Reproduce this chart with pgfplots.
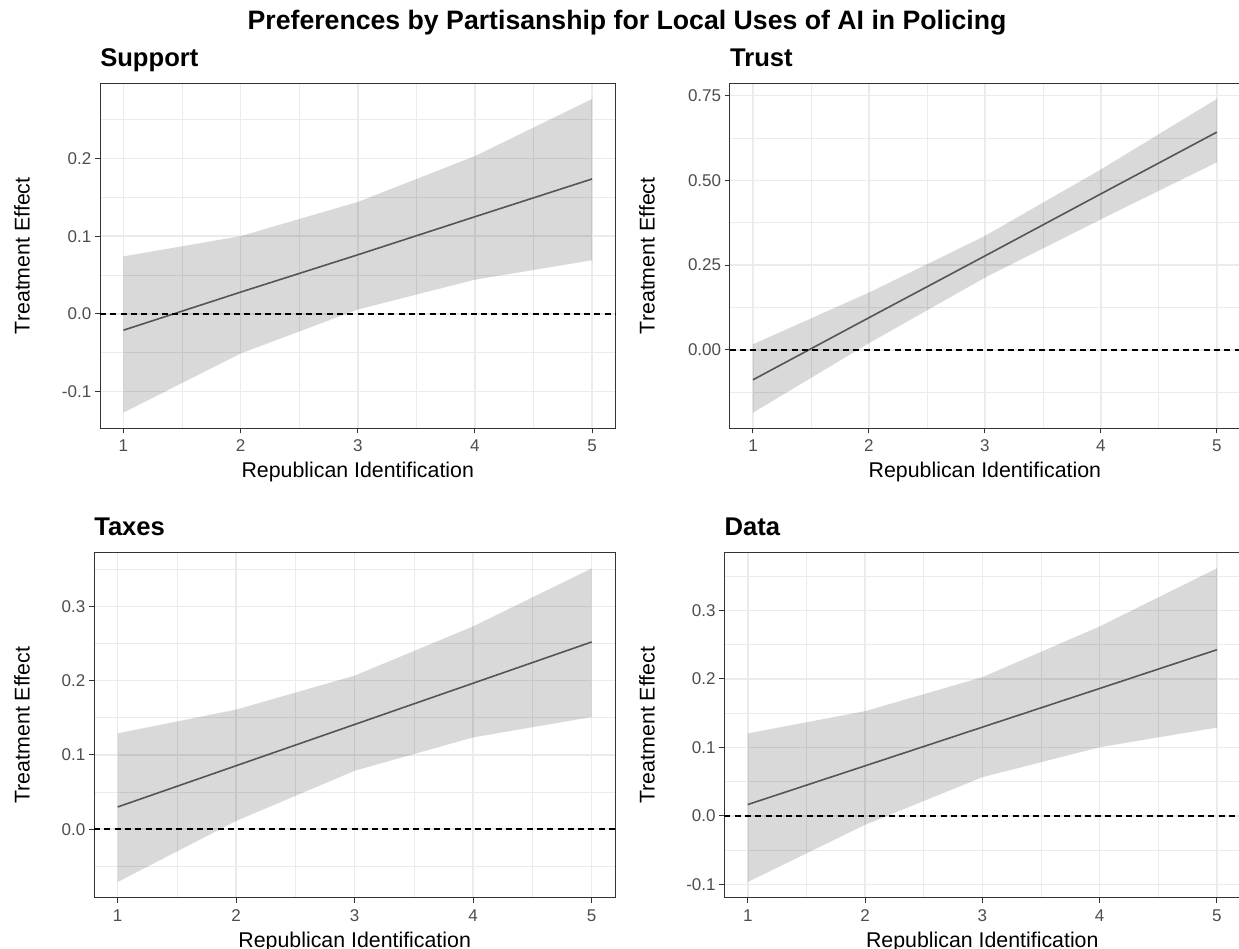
\documentclass[border=0pt]{standalone}
\usepackage{fontspec}
\setmainfont{Liberation Sans}
\usepackage{pgfplots}
\pgfplotsset{compat=1.18}
\usepackage{pgfplotstable}
\usepgfplotslibrary{fillbetween}
\newlength\px \setlength\px{0.75pt}

\definecolor{gridc}{RGB}{235,235,235}
\definecolor{borderc}{RGB}{51,51,51}
\definecolor{tickc}{RGB}{77,77,77}
\definecolor{fitc}{RGB}{85,85,85}

\pgfplotstableread{
x fit lo hi
1 -0.021 -0.127 0.074
2 0.028 -0.051 0.100
3 0.076 0.0056 0.144
4 0.125 0.044 0.203
5 0.1736 0.069 0.2765
}\support
\pgfplotstableread{
x fit lo hi
1 -0.088 -0.185 0.0167
2 0.095 0.020 0.169
3 0.277 0.213 0.336
4 0.460 0.385 0.532
5 0.642 0.553 0.740
}\trust
\pgfplotstableread{
x fit lo hi
1 0.030 -0.071 0.129
2 0.0855 0.0112 0.161
3 0.141 0.0787 0.2067
4 0.1965 0.1236 0.273
5 0.252 0.151 0.351
}\taxes
\pgfplotstableread{
x fit lo hi
1 0.0166 -0.0966 0.1205
2 0.0731 -0.013 0.153
3 0.1296 0.0565 0.2026
4 0.1861 0.1003 0.2767
5 0.2427 0.129 0.3616
}\datatab

\pgfplotsset{
  panel/.style={
    scale only axis, height=345\px,
    xmin=0.8, xmax=5.2,
    xtick={1,2,3,4,5}, minor xtick={1.5,2.5,3.5,4.5},
    grid=both,
    major grid style={gridc, line width=1.5\px},
    minor grid style={gridc, line width=0.75\px},
    axis line style={borderc, line width=1\px},
    tick pos=left,
    tick align=outside, major tick length=5\px, minor tick length=0pt,
    tick style={borderc, line width=1\px},
    every tick label/.append style={font=\fontsize{12.75}{14}\selectfont, text=tickc},
    xticklabel style={yshift=-2\px},
    yticklabel style={xshift=1\px},
    xlabel={Republican Identification},
    ylabel={Treatment Effect},
    label style={font=\fontsize{16}{18}\selectfont},
    xlabel style={at={(axis description cs:0.5,0)}, anchor=center, yshift=-44\px},
    title style={at={(axis description cs:0,1)}, anchor=base west, inner sep=0pt, yshift=9\px, font=\bfseries\fontsize{19.2}{22}\selectfont},
    scaled y ticks=false,
    /pgf/number format/assume math mode=true,
  },
}

\newcommand{\panelplots}[1]{%
  \addplot[draw=none, forget plot, name path=U] table[x=x, y=hi]{#1};
  \addplot[draw=none, forget plot, name path=L] table[x=x, y=lo]{#1};
  \addplot[fill=black, fill opacity=0.15, draw=none] fill between[of=U and L];
  \addplot[fitc, line width=1.6\px] table[x=x, y=fit]{#1};
  \addplot[black, line width=1.7\px, dash pattern=on 6\px off 4.3\px] coordinates {(0.8,0) (5.2,0)};
}

\begin{document}
\begin{tikzpicture}
\node[anchor=base, inner sep=0pt, font=\bfseries\fontsize{20}{24}\selectfont] at (627\px,919\px) {Preferences by Partisanship for Local Uses of AI in Policing};

% Support
\begin{axis}[panel, anchor=north west, at={(100\px,865.7\px)}, width=515.5\px,
  title={Support},
  ymin=-0.1472, ymax=0.2967,
  ytick={-0.1,0,0.1,0.2}, yticklabels={-0.1,0.0,0.1,0.2},
  minor ytick={-0.05,0.05,0.15,0.25},
  ylabel style={at={(axis description cs:0,0.5)}, anchor=center, yshift=78\px}]
\panelplots{\support}
\end{axis}

% Trust
\begin{axis}[panel, anchor=north west, at={(729.8\px,865.7\px)}, width=510.2\px,
  title={Trust},
  ymin=-0.231, ymax=0.786,
  ytick={0,0.25,0.5,0.75}, yticklabels={0.00,0.25,0.50,0.75},
  minor ytick={-0.125,0.125,0.375,0.625},
  ylabel style={at={(axis description cs:0,0.5)}, anchor=center, yshift=82.8\px}]
\panelplots{\trust}
\end{axis}

% Taxes
\begin{axis}[panel, anchor=north west, at={(94\px,396.3\px)}, width=521.4\px,
  title={Taxes},
  ymin=-0.0921, ymax=0.3721,
  ytick={0,0.1,0.2,0.3}, yticklabels={0.0,0.1,0.2,0.3},
  minor ytick={-0.05,0.05,0.15,0.25,0.35},
  ylabel style={at={(axis description cs:0,0.5)}, anchor=center, yshift=72\px}]
\panelplots{\taxes}
\end{axis}

% Data
\begin{axis}[panel, anchor=north west, at={(724.3\px,396.3\px)}, width=516\px,
  title={Data},
  ymin=-0.1195, ymax=0.3845,
  ytick={-0.1,0,0.1,0.2,0.3}, yticklabels={-0.1,0.0,0.1,0.2,0.3},
  minor ytick={-0.05,0.05,0.15,0.25,0.35},
  ylabel style={at={(axis description cs:0,0.5)}, anchor=center, yshift=77.3\px}]
\panelplots{\datatab}
\end{axis}
\pgfresetboundingbox
\useasboundingbox (0,0) rectangle (1239\px,949\px);
\end{tikzpicture}
\end{document}
